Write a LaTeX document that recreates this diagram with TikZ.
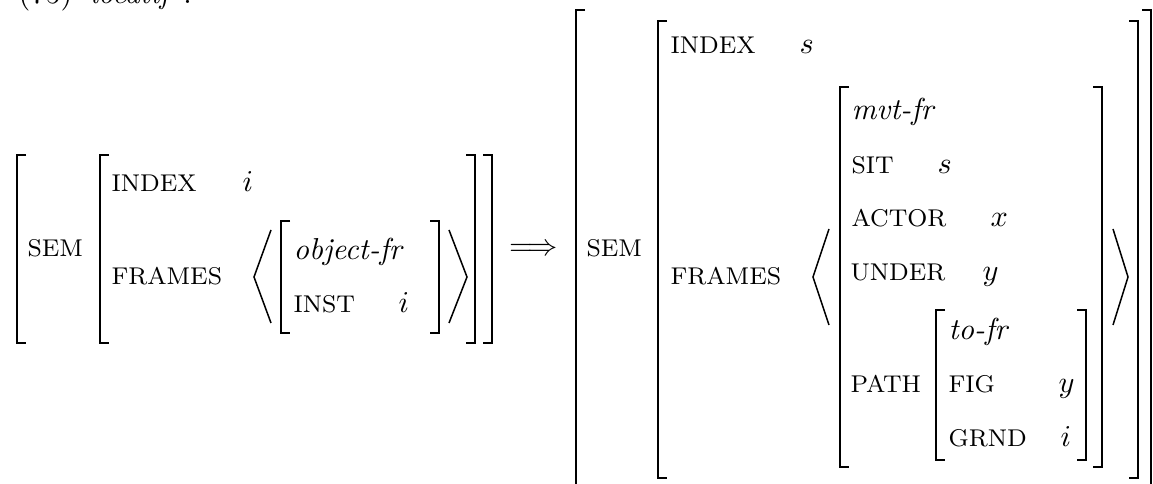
\documentclass[tikz,border=0pt]{standalone}
\tikzset{
  feat/.style={inner sep=0pt, anchor=base west, font=\fontsize{8}{9.6}\selectfont},
  val/.style={inner sep=0pt, anchor=base west, font=\fontsize{10}{12}\selectfont},
  brk/.style={line width=0.75pt, line join=miter},
  ang/.style={line width=0.5pt, line join=miter},
}
\begin{document}
\begin{tikzpicture}[x=0.33pt, y=-0.33pt]
\clip (0,0) rectangle (1153,484);
% title (cut off at top)
\node[val] (ex) at (18,4) {(75)};
\node[val] (ttl) at (90,4) {\textit{locatif} :};

% ---------- left AVM ----------
\draw[brk] (26,155) -- (17,155) -- (17,343) -- (26,343);
\draw[brk] (109,155) -- (100,155) -- (100,343) -- (109,343);
\draw[brk] (290,221) -- (281,221) -- (281,333) -- (290,333);
\draw[brk] (430,221) -- (439,221) -- (439,333) -- (430,333);
\draw[brk] (466,155) -- (475,155) -- (475,343) -- (466,343);
\draw[brk] (483,155) -- (492,155) -- (492,343) -- (483,343);
\draw[ang] (271,230) -- (254,277) -- (271,323);
\draw[ang] (449,230) -- (467,277) -- (449,323);

\node[feat] (lsem) at (27,257) {SEM};
\node[feat] (lindex) at (111,192) {INDEX};
\node[val] (lindexv) at (242,192) {$i$};
\node[feat] (lframes) at (111,285) {FRAMES};
\node[val] (lobj) at (293,260) {\textit{object-fr}};
\node[feat] (linst) at (293,313) {INST};
\node[val] (linstv) at (398,313) {$i$};

% arrow
\node[inner sep=0pt, font=\fontsize{10}{12}\selectfont] (arr) at (533.5,250) {$\Longrightarrow$};

% ---------- right AVM ----------
\draw[brk] (585,10) -- (576,10) -- (576,500);
\draw[brk] (667,21) -- (658,21) -- (658,478) -- (667,478);
\draw[brk] (849,87) -- (840,87) -- (840,467) -- (849,467);
\draw[brk] (945,310) -- (936,310) -- (936,460) -- (945,460);
\draw[brk] (1077,310) -- (1086,310) -- (1086,460) -- (1077,460);
\draw[brk] (1093,87) -- (1102,87) -- (1102,467) -- (1093,467);
\draw[brk] (1129,21) -- (1138,21) -- (1138,478) -- (1129,478);
\draw[brk] (1142,10) -- (1151,10) -- (1151,500);
\draw[ang] (829,229) -- (813,277) -- (829,325);
\draw[ang] (1113,229) -- (1128,277) -- (1113,325);

\node[feat] (rsem) at (586,257) {SEM};
\node[feat] (rindex) at (670,54) {INDEX};
\node[val] (rindexv) at (799,54) {$s$};
\node[feat] (rframes) at (670,285) {FRAMES};
\node[val] (mvt) at (851,120) {\textit{mvt-fr}};
\node[feat] (sit) at (851,174) {SIT};
\node[val] (sitv) at (937,174) {$s$};
\node[feat] (actor) at (851,227) {ACTOR};
\node[val] (actorv) at (990,227) {$x$};
\node[feat] (under) at (850,281) {UNDER};
\node[val] (underv) at (982,281) {$y$};
\node[feat] (path) at (850,393) {PATH};
\node[val] (tofr) at (948,340) {\textit{to-fr}};
\node[feat] (fig) at (948,393) {FIG};
\node[val] (figv) at (1058,393) {$y$};
\node[feat] (grnd) at (948,447) {GRND};
\node[val] (grndv) at (1060,447) {$i$};
\end{tikzpicture}
\end{document}
